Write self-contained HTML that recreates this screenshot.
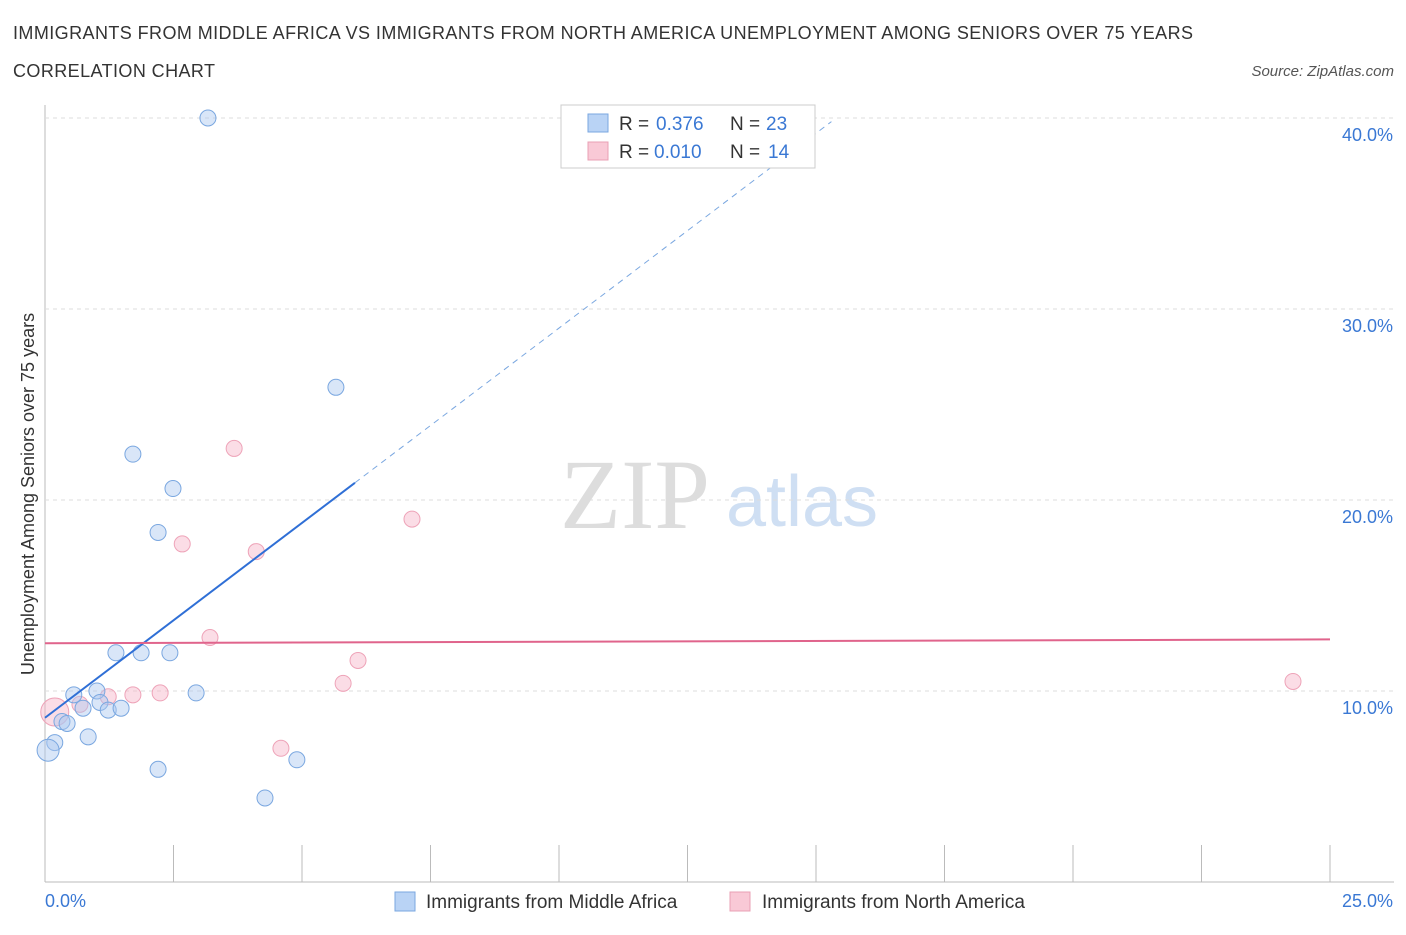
<!DOCTYPE html>
<html><head><meta charset="utf-8"><style>
body{margin:0;background:#fff;font-family:"Liberation Sans",sans-serif;}
svg text{font-family:"Liberation Sans",sans-serif;}
</style></head><body>
<svg id="chart" width="1406" height="930">
<text x="13" y="39" font-size="18" fill="#333" textLength="1180">IMMIGRANTS FROM MIDDLE AFRICA VS IMMIGRANTS FROM NORTH AMERICA UNEMPLOYMENT AMONG SENIORS OVER 75 YEARS</text>
<text x="13" y="77" font-size="18" fill="#333" textLength="202">CORRELATION CHART</text>
<text x="1394" y="76" font-size="15" fill="#555" font-style="italic" text-anchor="end">Source: ZipAtlas.com</text>
<text x="635" y="528" font-size="100" fill="#ddd" style="font-family:'Liberation Serif',serif" text-anchor="middle">ZIP</text>
<text x="802" y="526" font-size="72" fill="#cfdff3" text-anchor="middle">atlas</text>
<g id="grid"></g><g id="marks"></g>
<text transform="translate(34,494) rotate(-90)" font-size="18" fill="#333" text-anchor="middle">Unemployment Among Seniors over 75 years</text>
<text x="45" y="907" font-size="18" fill="#3a78d4">0.0%</text>
<text x="1393" y="907" font-size="18" fill="#3a78d4" text-anchor="end">25.0%</text>
<g>
<rect x="561" y="105" width="254" height="63" fill="#fff" stroke="#ccc"/>
<rect x="588" y="114" width="20" height="18" fill="#b9d3f5" stroke="#7aa7e0"/>
<text x="619" y="130" font-size="19" fill="#333">R =</text>
<text x="656" y="130" font-size="19" fill="#3a78d4">0.376</text>
<text x="730" y="130" font-size="19" fill="#333">N =</text>
<text x="766" y="130" font-size="19" fill="#3a78d4">23</text>
<rect x="588" y="142" width="20" height="18" fill="#f9c9d6" stroke="#e9a0b4"/>
<text x="619" y="158" font-size="19" fill="#333">R =</text>
<text x="654" y="158" font-size="19" fill="#3a78d4">0.010</text>
<text x="730" y="158" font-size="19" fill="#333">N =</text>
<text x="768" y="158" font-size="19" fill="#3a78d4">14</text>
</g>
<g>
<rect x="395" y="892" width="20" height="19" fill="#b9d3f5" stroke="#7aa7e0"/>
<text x="426" y="908" font-size="19" fill="#333">Immigrants from Middle Africa</text>
<rect x="730" y="892" width="20" height="19" fill="#f9c9d6" stroke="#e9a0b4"/>
<text x="762" y="908" font-size="19" fill="#333">Immigrants from North America</text>
</g>
</svg>
<script>
const yTicks=[10,20,30,40];
const xTicks=[0,2.5,5,7.5,10,12.5,15,17.5,20,22.5,25];
const blueX=[3.17,5.66,1.71,2.49,2.20,1.38,1.87,2.43,0.56,1.01,1.07,0.74,1.23,1.48,2.94,0.33,0.43,0.84,0.19,0.06,2.20,4.90,4.28];
const blueY=[40.0,25.9,22.4,20.6,18.3,12.0,12.0,12.0,9.8,10.0,9.4,9.1,9.0,9.1,9.9,8.4,8.3,7.6,7.3,6.9,5.9,6.4,4.4];
const pinkX=[3.68,7.14,2.67,4.11,3.21,6.09,5.80,2.24,1.71,1.23,4.59,24.28,0.19,0.68];
const pinkY=[22.7,19.0,17.7,17.3,12.8,11.6,10.4,9.9,9.8,9.7,7.0,10.5,8.9,9.3];
const blueTrend=[8.6,2.04];
const pinkTrend=[12.5,0.008];
const X=v=>45+v*51.4, Y=v=>882-v*19.1;
const NS="http://www.w3.org/2000/svg";
function mk(parent,tag,attrs){const e=document.createElementNS(NS,tag);for(const k in attrs)e.setAttribute(k,attrs[k]);document.getElementById(parent).appendChild(e);return e;}
mk('grid','line',{x1:45,y1:105,x2:45,y2:882,stroke:'#bbb'});
mk('grid','line',{x1:45,y1:882,x2:1394,y2:882,stroke:'#bbb'});
yTicks.forEach(t=>{
 const l=mk('grid','line',{x1:45,y1:Y(t),x2:1394,y2:Y(t),stroke:'#ddd','stroke-dasharray':'4,4'});
 
 
 const tx=mk('grid','text',{x:1393,y:Y(t)+23,'font-size':18,fill:'#3a78d4','text-anchor':'end'});
 tx.textContent=t.toFixed(1)+'%';
 
 
});
xTicks.forEach(t=>{
 const l=mk('grid','line',{x1:X(t),y1:845,x2:X(t),y2:882,stroke:'#bbb'});
 
 
});
pinkX.forEach((v,i)=>{
 const c=mk('marks','circle',{cx:X(v),cy:Y(pinkY[i]),r:i==12?14:8,fill:'rgba(246,180,200,0.45)',stroke:'#eea3b8','stroke-width':1});
 
 
});
blueX.forEach((v,i)=>{
 const c=mk('marks','circle',{cx:X(v),cy:Y(blueY[i]),r:i==19?11:8,fill:'rgba(170,200,240,0.45)',stroke:'#7aa7e0','stroke-width':1});
 
 
});
const bx1=6.03, bx2=15.3;
let l1=mk('marks','line',{x1:X(0),y1:Y(blueTrend[0]),x2:X(bx1),y2:Y(blueTrend[0]+blueTrend[1]*bx1),stroke:'#2f6fd6','stroke-width':2});


let l2=mk('marks','line',{x1:X(bx1),y1:Y(blueTrend[0]+blueTrend[1]*bx1),x2:X(bx2),y2:Y(blueTrend[0]+blueTrend[1]*bx2),stroke:'#7aa7e0','stroke-width':1,'stroke-dasharray':'6,5'});


let l3=mk('marks','line',{x1:X(0),y1:Y(pinkTrend[0]),x2:X(25),y2:Y(pinkTrend[0]+pinkTrend[1]*25),stroke:'#e0648c','stroke-width':2});


</script>
</body></html>
